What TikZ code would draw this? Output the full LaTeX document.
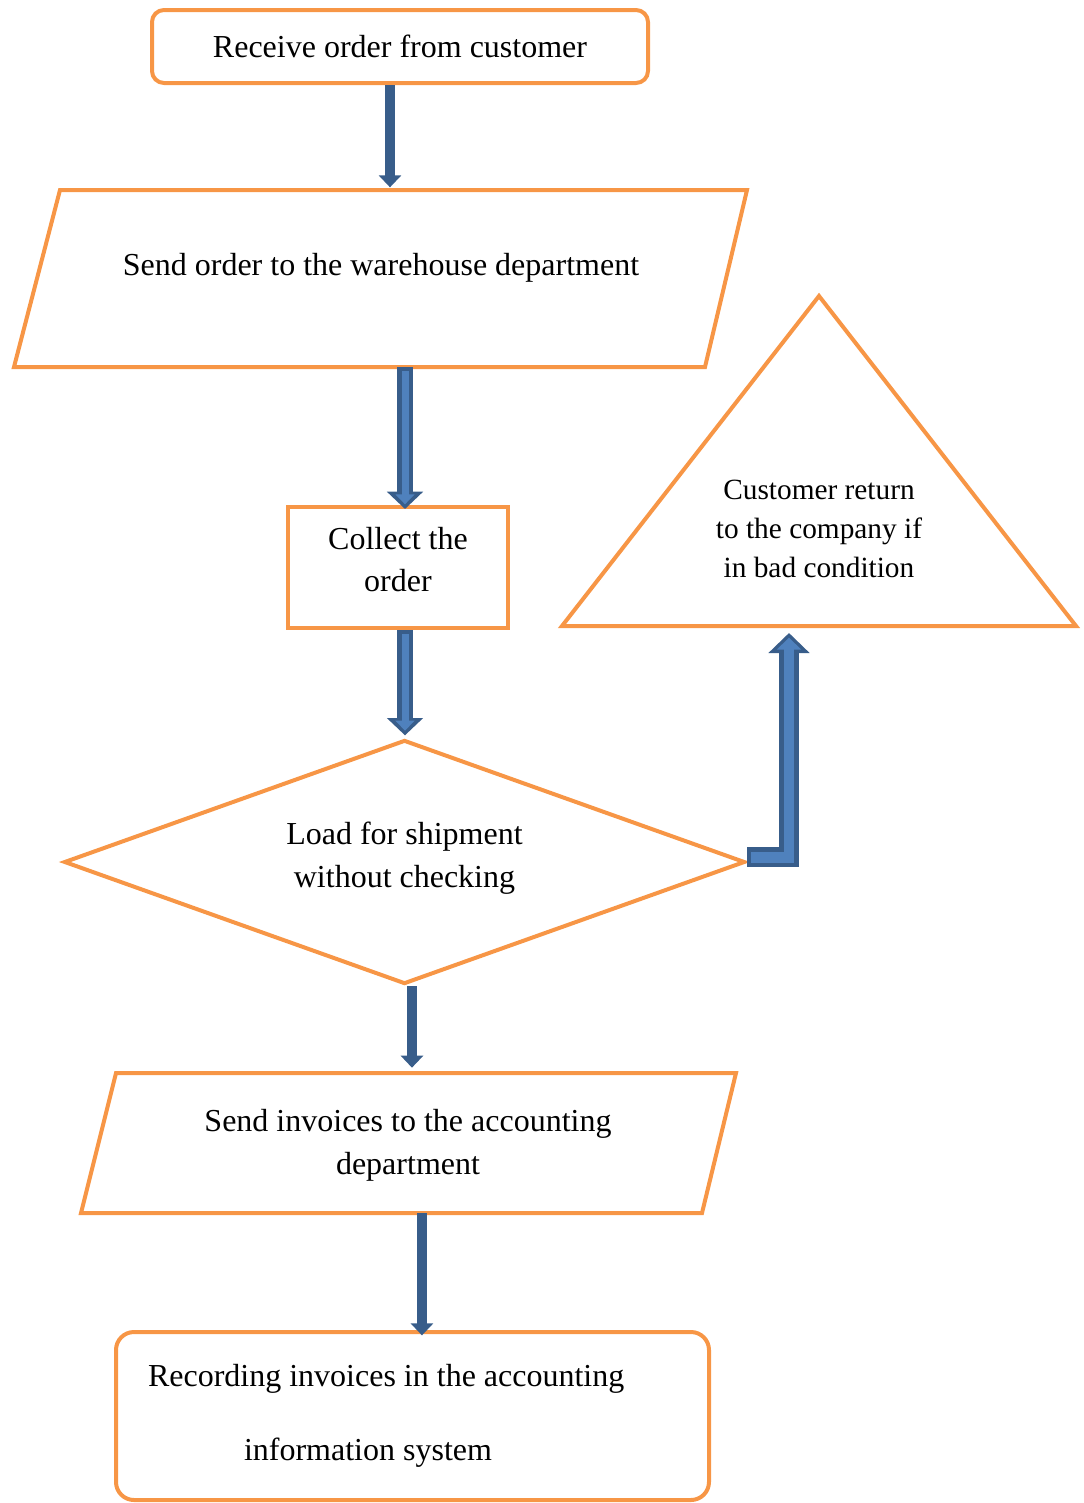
\documentclass[tikz,border=0pt]{standalone}
\usepackage{fontspec}
\setmainfont{Liberation Serif}
\usetikzlibrary{shapes.geometric,arrows.meta}
\definecolor{orangeline}{HTML}{F79646}
\definecolor{arrowdark}{HTML}{385D8A}
\definecolor{arrowlight}{HTML}{4F81BD}
\tikzstyle{orangeedge}=[draw=orangeline, line width=3pt]
\tikzstyle{box}=[rectangle, orangeedge, inner sep=0pt]
\tikzstyle{txt}=[align=center, font=\fontsize{24}{32}\selectfont]
\tikzstyle{flow}=[-{Triangle[width=16.5pt,length=9pt]}, line width=7.5pt, draw=arrowdark]
\tikzstyle{blockout}=[-{Triangle[width=26.5pt,length=13pt]}, line width=12pt, draw=arrowdark, line join=miter]
\tikzstyle{blockin}=[-{Triangle[width=14pt,length=7.5pt]}, line width=5.25pt, draw=arrowlight, line join=miter, shorten >=3.5pt, shorten <=3pt]

\begin{document}
\begin{tikzpicture}[x=0.75pt, y=-0.75pt]
	\useasboundingbox (0,0) rectangle (1084,1503);

	%The start box
	\draw (400,46.5) node[box, rounded corners=9pt, minimum width=372pt, minimum height=54.75pt, txt] (recv) {Receive order from customer};

	%Warehouse parallelogram
	\draw[orangeedge] (60,190) coordinate (sendNW) -- (747,190) -- (705,367) -- (14,367) coordinate (sendSW) -- cycle;
	\draw (381,268) node[txt] (send) {Send order to the warehouse department};

	\draw (398,567.5) node[box, minimum width=165pt, minimum height=90.75pt, txt, text depth=12pt] (collect) {Collect the\\order};

	%The return triangle
	\draw[orangeedge] (819,296) -- (1076,626) -- (562,626) coordinate (retSW) -- cycle;
	\draw (819,529) node[txt, font=\fontsize{22}{29.25}\selectfont] (ret) {Customer return\\to the company if\\in bad condition};
	\coordinate (retin) at (789,633);

	%The check diamond
	\draw (404.5,862) node[diamond, aspect=2.79, orangeedge, inner sep=0pt, minimum width=510.75pt, minimum height=183pt, txt, text depth=11pt] (load) {Load for shipment\\without checking};

	%Invoices parallelogram
	\draw[orangeedge] (116,1073) coordinate (invNW) -- (736,1073) -- (702,1213) -- (81,1213) coordinate (invSW) -- cycle;
	\draw (408,1145) node[txt] (inv) {Send invoices to the accounting\\department};

	\draw (412.5,1416) node[box, rounded corners=13.5pt, minimum width=444.75pt, minimum height=126pt, txt, text width=396.75pt, align=flush left, font=\fontsize{24}{55.5}\selectfont] (record) {Recording invoices in the accounting\\\hspace*{72pt}information system};

	%The arrows
	\draw[flow, shorten >=2pt] ([xshift=-7.5pt]recv.south) -- ([xshift=-7.5pt]recv.south |- sendNW);

	\draw[blockout, shorten >=-3pt] ([xshift=5.25pt]collect.north |- sendSW) -- ([xshift=5.25pt]collect.north);
	\draw[blockin, shorten >=0.5pt] ([xshift=5.25pt]collect.north |- sendSW) -- ([xshift=5.25pt]collect.north);

	\draw[blockout, shorten >=2pt] ([xshift=5.25pt]collect.south) -- ([xshift=5.25pt]collect.south |- load.north);
	\draw[blockin, shorten >=5.5pt] ([xshift=5.25pt]collect.south) -- ([xshift=5.25pt]collect.south |- load.north);

	\draw[blockout, line width=15pt, -{Triangle[width=30pt,length=15pt]}] ([yshift=3.4pt]load.east) -| (retin);
	\draw[blockin, line width=8pt, -{Triangle[width=18pt,length=9pt]}] ([yshift=3.4pt]load.east) -| (retin);

	\draw[flow, shorten >=4pt] ([xshift=5.6pt]load.south) -- ([xshift=5.6pt]load.south |- invNW);
	\draw[flow, shorten >=-4pt] ([xshift=7.1pt]record.north |- invSW) -- ([xshift=7.1pt]record.north);
\end{tikzpicture}
\end{document}
